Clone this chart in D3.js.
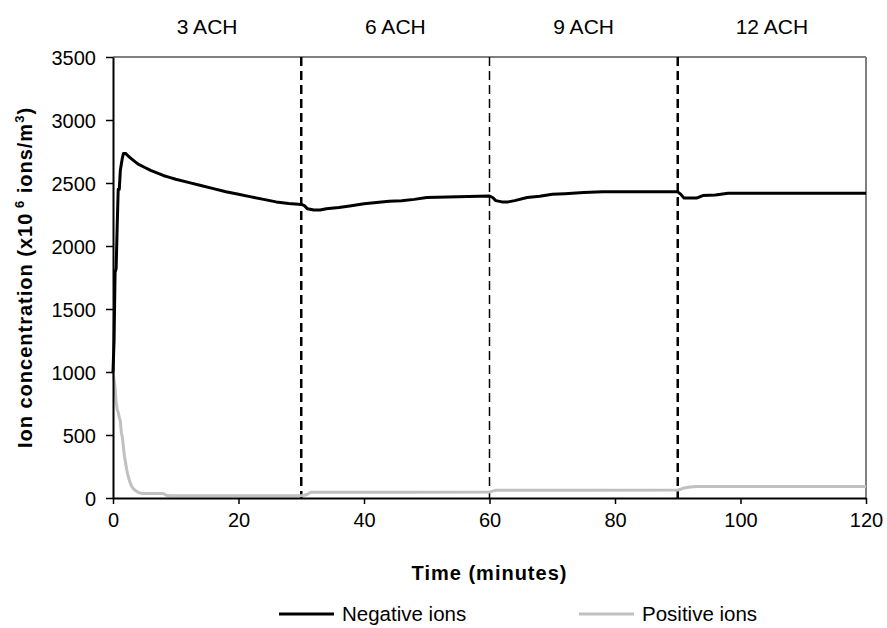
<!DOCTYPE html>
<html>
<head>
<meta charset="utf-8">
<script src="https://cdn.jsdelivr.net/npm/d3@7/dist/d3.min.js"></script>
<style>
  html, body { margin: 0; padding: 0; background: #fff; }
  svg { display: block; font-family: "Liberation Sans", Arial, sans-serif; }
</style>
</head>
<body>
<svg id="chart" width="887" height="628"></svg>
<script>
// ---- Data ----
const negTime = [0, 0.17, 0.33, 0.5, 0.67, 0.83, 1.0, 1.17, 1.33, 1.5, 1.67, 2.0, 2.5, 3.0, 3.5, 4, 5, 6, 7, 8, 9, 10, 12, 14, 16, 18, 20, 22, 24, 26, 28, 30, 30.5, 31, 32, 33, 34, 36, 38, 40, 42, 44, 46, 48, 50, 55, 60, 60.5, 61, 62, 63, 64, 66, 68, 70, 72, 75, 78, 80, 85, 90, 90.5, 91, 92, 93, 94, 96, 98, 100, 110, 120];
const negValues = [1000, 1250, 1790, 1820, 2160, 2450, 2450, 2600, 2650, 2700, 2735, 2735, 2710, 2690, 2670, 2650, 2625, 2600, 2580, 2560, 2545, 2530, 2505, 2480, 2455, 2430, 2410, 2390, 2370, 2350, 2338, 2330, 2320, 2295, 2285, 2285, 2295, 2305, 2320, 2335, 2345, 2355, 2360, 2370, 2385, 2390, 2397, 2385, 2360, 2350, 2350, 2360, 2385, 2395, 2410, 2415, 2425, 2430, 2430, 2430, 2430, 2410, 2380, 2380, 2380, 2400, 2405, 2418, 2418, 2418, 2418];
const posTime = [0, 0.17, 0.33, 0.5, 0.67, 0.83, 1.0, 1.17, 1.33, 1.5, 1.67, 1.83, 2.0, 2.17, 2.33, 2.5, 2.67, 2.83, 3.0, 3.33, 3.67, 4.0, 4.5, 5.0, 6, 7, 8, 8.5, 9, 12, 15, 20, 25, 30, 30.5, 31, 31.5, 35, 45, 60, 60.5, 61, 65, 75, 90, 90.5, 91, 92, 93, 100, 110, 120];
const posValues = [1000, 940, 880, 760, 700, 680, 640, 610, 520, 480, 400, 330, 280, 230, 190, 160, 130, 110, 90, 70, 55, 45, 38, 36, 36, 36, 36, 22, 18, 18, 18, 18, 18, 18, 22, 30, 45, 45, 45, 48, 55, 62, 62, 62, 64, 70, 80, 88, 92, 92, 92, 92];
const phaseBounds = [30, 60, 90];
const phaseWidths = [2.5, 1.5, 2.5];
const phaseLabels = ["3 ACH", "6 ACH", "9 ACH", "12 ACH"];
const phaseCenters = [15, 45, 75, 105];
const xTicks = [0, 20, 40, 60, 80, 100, 120];
const yTicks = [0, 500, 1000, 1500, 2000, 2500, 3000, 3500];
const seriesNames = ["Negative ions", "Positive ions"];
const seriesColors = ["#000000", "#c0c0c0"];

// ---- Layout ----
const svg = d3.select("#chart");
const pLeft = 113, pRight = 866, pTop = 57, pBottom = 498;
const x = d3.scaleLinear().domain([0, 120]).range([pLeft, pRight]);
const y = d3.scaleLinear().domain([0, 3500]).range([pBottom, pTop]);

// plot frame (top/right grey)
svg.append("line").attr("x1", pLeft).attr("x2", pRight).attr("y1", pTop).attr("y2", pTop)
  .attr("stroke", "#808080").attr("stroke-width", 2);
svg.append("line").attr("x1", pRight).attr("x2", pRight).attr("y1", pTop).attr("y2", pBottom)
  .attr("stroke", "#808080").attr("stroke-width", 2);

// phase dividers
svg.selectAll(".phase").data(phaseBounds).enter().append("line")
  .attr("x1", d => x(d)).attr("x2", d => x(d))
  .attr("y1", pTop).attr("y2", pBottom)
  .attr("stroke", "#000").attr("stroke-width", (d, i) => phaseWidths[i])
  .attr("stroke-dasharray", "9,5");

// lines
const lineGen = (tArr) => d3.line().x((d, i) => x(tArr[i])).y(d => y(d));
svg.append("path").datum(posValues).attr("d", lineGen(posTime))
  .attr("fill", "none").attr("stroke", seriesColors[1]).attr("stroke-width", 3)
  .attr("stroke-linejoin", "round");
svg.append("path").datum(negValues).attr("d", lineGen(negTime))
  .attr("fill", "none").attr("stroke", seriesColors[0]).attr("stroke-width", 3)
  .attr("stroke-linejoin", "round");

// axes
const xAxis = svg.append("g").attr("transform", `translate(0,${pBottom})`)
  .call(d3.axisBottom(x).tickValues(xTicks).tickFormat(d3.format("d"))
    .tickSize(6).tickPadding(9).tickSizeOuter(0));
const yAxis = svg.append("g").attr("transform", `translate(${pLeft},0)`)
  .call(d3.axisLeft(y).tickValues(yTicks).tickFormat(d3.format("d"))
    .tickSize(7).tickPadding(10).tickSizeOuter(0));
[xAxis, yAxis].forEach(g => {
  g.select(".domain").attr("stroke", "#000").attr("stroke-width", 2);
  g.selectAll(".tick line").attr("stroke", "#000").attr("stroke-width", 1.5);
  g.selectAll(".tick text").attr("fill", "#000").style("font-size", "20px")
    .style("font-family", '"Liberation Sans", Arial, sans-serif');
});
yAxis.selectAll(".tick text").attr("dy", "0.35em");

// phase labels
svg.selectAll(".plabel").data(phaseLabels).enter().append("text")
  .attr("x", (d, i) => x(phaseCenters[i])).attr("y", 34)
  .attr("text-anchor", "middle").style("font-size", "21px").text(d => d);

// axis titles
svg.append("text").attr("x", (pLeft + pRight) / 2).attr("y", 580)
  .attr("text-anchor", "middle").style("font-size", "20px").style("font-weight", "bold")
  .style("letter-spacing", "1px").text("Time (minutes)");

const yt = svg.append("text")
  .attr("transform", `translate(32,${(pTop + pBottom) / 2}) rotate(-90)`)
  .attr("text-anchor", "middle").style("font-size", "20px").style("font-weight", "bold")
  .style("letter-spacing", "1px");
yt.append("tspan").text("Ion concentration (x10");
yt.append("tspan").attr("dy", -8).style("font-size", "13px").text(" 6");
yt.append("tspan").attr("dy", 8).text(" ions/m");
yt.append("tspan").attr("dy", -8).style("font-size", "13px").text("3");
yt.append("tspan").attr("dy", 8).text(")");

// legend
const legendX = [279, 579];
const lg = svg.selectAll(".leg").data(seriesNames).enter().append("g")
  .attr("transform", (d, i) => `translate(${legendX[i]},614)`);
lg.append("line").attr("x1", 0).attr("x2", 55).attr("y1", 0).attr("y2", 0)
  .attr("stroke", (d, i) => seriesColors[i]).attr("stroke-width", 3);
lg.append("text").attr("x", 63).attr("y", 7).style("font-size", "20.5px").text(d => d);
</script>
</body>
</html>
